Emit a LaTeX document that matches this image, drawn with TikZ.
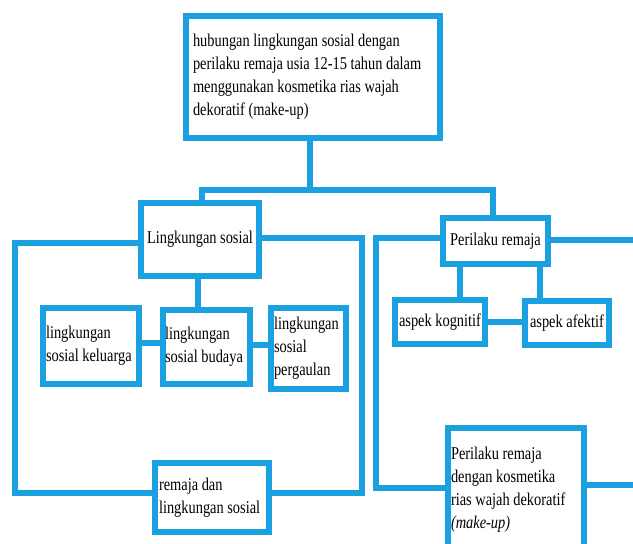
\documentclass[tikz,border=0pt]{standalone}
\usepackage{fontspec}
\setmainfont[FakeStretch=0.8]{Liberation Serif}
\usepackage{tikz}
\definecolor{skyline}{RGB}{27,161,226}
\newcommand\tightspace{\spaceskip=3.6pt plus 1pt minus 0.5pt\relax}

\begin{document}
\begin{tikzpicture}[x=1pt, y=-1pt,
    box/.style={draw=skyline, line width=6pt, fill=white, inner sep=3pt, align=left,
      font=\fontsize{18}{23}\selectfont, execute at begin node=\tightspace},
    link/.style={draw=skyline, line width=6pt},
    ]
  \useasboundingbox (0,0) rectangle (633,544);
  \clip (0,0) rectangle (633,544);

  \node[box, inner xsep=7pt, text width=240pt, minimum height=122pt] (top) at (313,77)
    {hubungan lingkungan sosial dengan\\ perilaku remaja usia 12-15 tahun dalam\\
     menggunakan kosmetika rias wajah\\ dekoratif (make-up)};

  \node[box, align=center, minimum width=118pt, minimum height=73pt] (ling) at (200,239.5) {Lingkungan sosial};
  \node[box, align=center, minimum width=105pt, minimum height=46pt] (peri) at (495.5,241) {Perilaku remaja};

  \node[box, text width=90pt, minimum height=76pt] (kel) at (91,346) {lingkungan\\ sosial keluarga};
  \node[box, inner xsep=2pt, text width=83pt, minimum height=74pt] (bud) at (206.5,347) {lingkungan\\ sosial budaya};
  \node[box, text width=69pt, minimum height=81pt] (perg) at (308.5,348.5) {lingkungan\\ sosial\\ pergaulan};
  \node[box, inner xsep=4pt, text width=106pt, minimum height=69pt] (remaja) at (212,497.5) {remaja dan\\ lingkungan sosial};

  \node[box, align=center, minimum width=90pt, minimum height=44pt] (kog) at (440,322) {aspek kognitif};
  \node[box, align=center, minimum width=84pt, minimum height=44pt] (afek) at (567,323) {aspek afektif};
  \node[box, text width=130pt, minimum height=124pt] (kos) at (516,490)
    {Perilaku remaja\\ dengan kosmetika\\ rias wajah dekoratif\\ \textit{(make-up)}};

  % top level
  \coordinate (barL) at (202,190);
  \coordinate (barM) at (310,190);
  \coordinate (barR) at (493,190);
  \draw[link] (top.south -| barM) -- (barM);
  \draw[link] (ling.north -| barL) -- (barL) -- (barR) -- (peri.north -| barR);

  % lingkungan sosial side
  \coordinate (lnw) at (15,243);
  \coordinate (lsw) at (15,493);
  \coordinate (lne) at (362,238);
  \coordinate (lse) at (362,493);
  \draw[link] (ling.west |- lnw) -- (lnw) -- (lsw) -- (remaja.west |- lsw);
  \draw[link] (ling.east |- lne) -- (lne) -- (lse) -- (remaja.east |- lse);
  \draw[link] (ling.south -| 198,0) -- (bud.north -| 198,0);
  \draw[link] (kel.east |- 0,343) -- (bud.west |- 0,343);
  \draw[link] (bud.east |- 0,345) -- (perg.west |- 0,345);

  % perilaku remaja side
  \coordinate (pnw) at (376,238);
  \coordinate (psw) at (376,488);
  \coordinate (pe) at (640,240);
  \coordinate (ke) at (640,485);
  \draw[link] (peri.west |- pnw) -- (pnw) -- (psw) -- (kos.west |- psw);
  \draw[link] (peri.east |- pe) -- (pe);
  \draw[link] (kos.east |- ke) -- (ke);
  \draw[link] (peri.south -| 460,0) -- (kog.north -| 460,0);
  \draw[link] (peri.south -| 540,0) -- (afek.north -| 540,0);
  \draw[link] (kog.east |- 0,322) -- (afek.west |- 0,322);
\end{tikzpicture}
\end{document}
